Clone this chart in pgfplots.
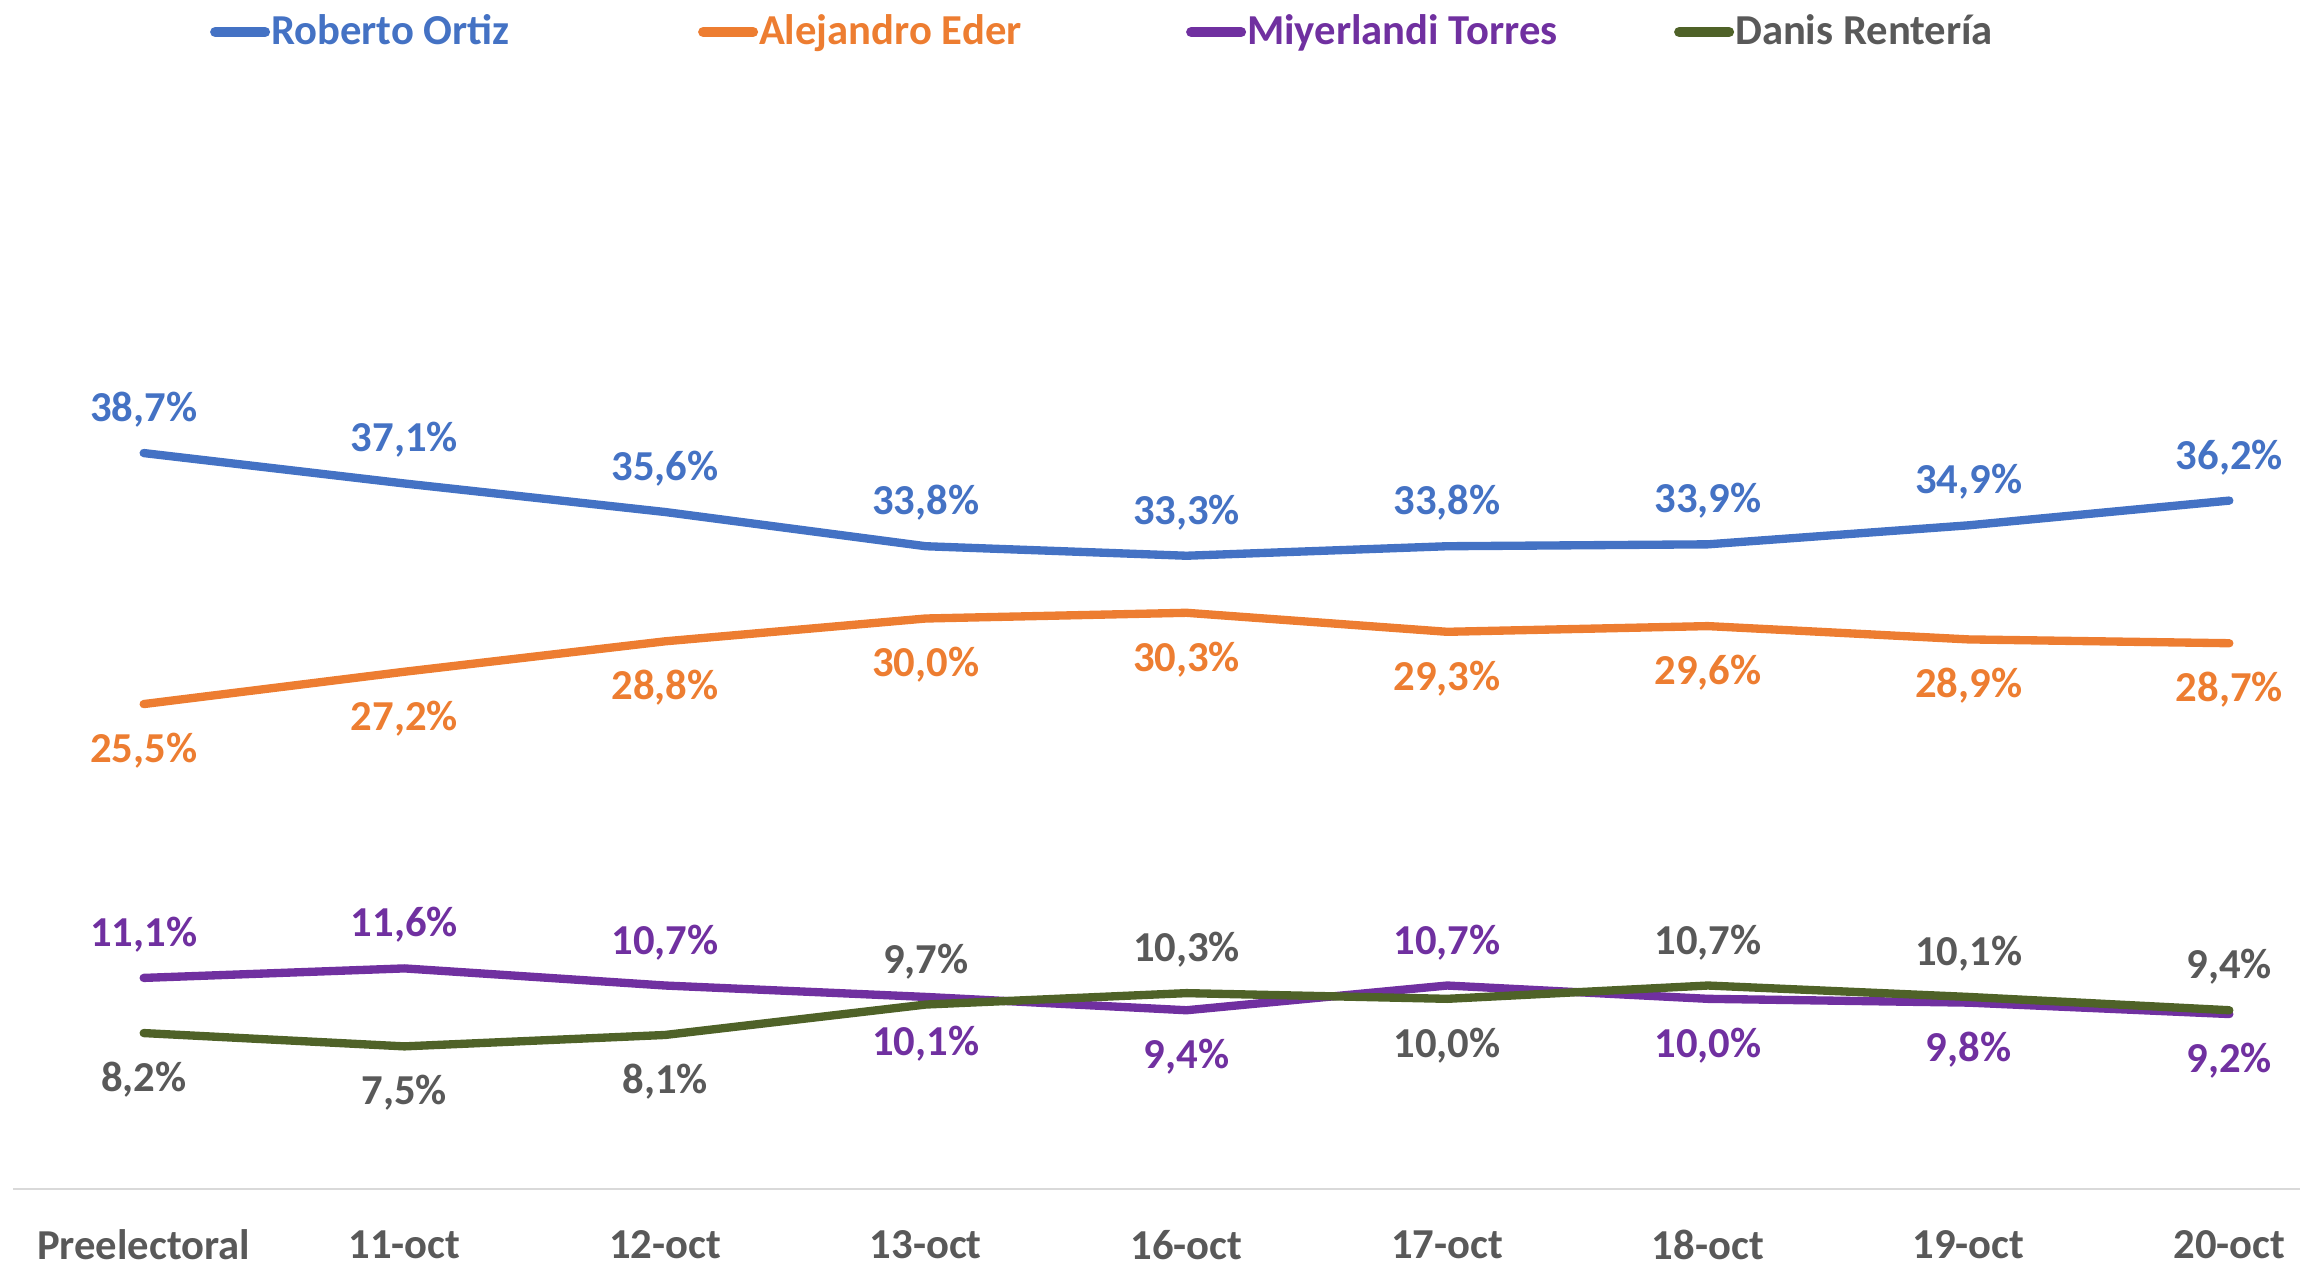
\documentclass[border=0pt]{standalone}
\usepackage{pgfplots}
\pgfplotsset{compat=1.18}
\usepackage{pgfplotstable}
\usepackage{fontspec}
\setmainfont{Carlito}
\definecolor{cblue}{HTML}{4472C4}
\definecolor{corange}{HTML}{ED7D31}
\definecolor{cpurple}{HTML}{7030A0}
\definecolor{cgreen}{HTML}{4F6228}
\definecolor{cgray}{HTML}{595959}
\definecolor{caxis}{HTML}{D9D9D9}

\pgfplotstableread{
x y pos
0 38.7 13
1 37.1 13
2 35.6 13
3 33.8 13
4 33.3 13
5 33.8 13
6 33.9 13
7 34.9 13
8 36.2 13
}\tro
\pgfplotstableread{
x y pos
0 25.5 -14
1 27.2 -14
2 28.8 -14
3 30.0 -14
4 30.3 -14
5 29.3 -14
6 29.6 -14
7 28.9 -14
8 28.7 -14
}\tae
\pgfplotstableread{
x y pos
0 11.1 13
1 11.6 13
2 10.7 13
3 10.1 -14
4 9.4 -14
5 10.7 13
6 10.0 -14
7 9.8 -14
8 9.2 -14
}\tmt
\pgfplotstableread{
x y pos
0 8.2 -14
1 7.5 -14
2 8.1 -14
3 9.7 13
4 10.3 13
5 10.0 -14
6 10.7 13
7 10.1 13
8 9.4 13
}\tdr

\begin{document}
\begin{tikzpicture}[font=\bfseries\fontsize{12.8}{15}\selectfont]
\begin{axis}[
  name=ax,
  scale only axis,
  width=703.9pt, height=342.3pt,
  xmin=-0.5, xmax=8.5, ymin=0, ymax=60,
  clip=false,
  axis line style={draw=none},
  ytick=\empty,
  xtick={0,...,8},
  xticklabels={Preelectoral,11-oct,12-oct,13-oct,16-oct,17-oct,18-oct,19-oct,20-oct},
  major tick length=0pt,
  xticklabel style={text=cgray, anchor=center, yshift=-16.8pt},
  /pgf/number format/assume math mode=true,
  legend columns=4,
  legend style={at={(0.464,1.014)}, anchor=center, draw=none, fill=none,
    nodes={inner xsep=0.3pt, inner ysep=1pt},
    /tikz/every even column/.append style={column sep=0pt}},
  legend image code/.code={\draw[#1, line width=3pt, line cap=round] (1.5pt,0pt) -- (16.5pt,0pt);},
  every axis plot/.append style={line width=2.5pt, line cap=round, line join=round},
  point meta=y,
  visualization depends on={\thisrow{pos} \as \lp},
  nodes near coords={\pgfmathprintnumber[fixed,fixed zerofill,precision=1,use comma]{\pgfplotspointmeta}\%},
  every node near coord/.append style={anchor=center, yshift=\lp pt},
]
\addplot[cblue, mark=none, nodes near coords style={text=cblue}] table[x=x,y=y] {\tro};
\addlegendentry{\makebox[127.8pt][l]{\textcolor{cblue}{Roberto Ortiz}}}
\addplot[corange, mark=none, nodes near coords style={text=corange}] table[x=x,y=y] {\tae};
\addlegendentry{\makebox[127.8pt][l]{\textcolor{corange}{Alejandro Eder}}}
\addplot[cpurple, mark=none, nodes near coords style={text=cpurple}] table[x=x,y=y] {\tmt};
\addlegendentry{\makebox[127.8pt][l]{\textcolor{cpurple}{Miyerlandi Torres}}}
\addplot[cgreen, mark=none, nodes near coords style={text=cgray}] table[x=x,y=y] {\tdr};
\addlegendentry{\textcolor{cgray}{Danis Rentería}}
\draw[caxis, line width=0.75pt] (axis cs:-0.5,0) -- (axis cs:8.5,0);
\end{axis}
\pgfresetboundingbox
\path[use as bounding box] ([shift={(-4pt,-23.4pt)}]ax.south west) rectangle ++(690pt,380.1pt);
\end{tikzpicture}
\end{document}
